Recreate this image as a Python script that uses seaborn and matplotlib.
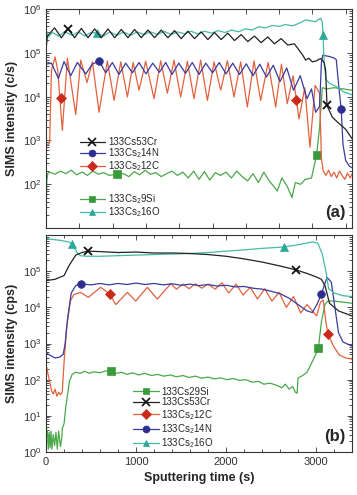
import numpy as np
import pandas as pd
import matplotlib
matplotlib.use("Agg")
import matplotlib.pyplot as plt
import seaborn as sns
from matplotlib.lines import Line2D
from matplotlib.ticker import MultipleLocator, LogLocator, NullFormatter

# ---------------- panel (a) data ----------------
a_cr_t = [0, 15, 95, 170, 244, 318, 392, 466, 540, 614, 688, 762, 836, 910, 984, 1058,
          1132, 1206, 1280, 1354, 1428, 1502, 1576, 1650, 1724, 1798, 1872, 1946, 2020,
          2094, 2168, 2242, 2316, 2390, 2464, 2538, 2612, 2686, 2760, 2811, 2850, 2885,
          2920, 2959, 3000, 3052, 3090, 3107, 3122, 3181, 3250, 3330, 3400]
a_cr_v = [1.2e5, 2.4e5, 3.7e5, 2.2e5, 3.5e5, 2.2e5, 3.6e5, 2.2e5, 3.5e5, 2.2e5, 3.5e5,
          2.2e5, 3.4e5, 2.2e5, 3.4e5, 2.2e5, 3.3e5, 2.2e5, 3.3e5, 2.2e5, 3.2e5, 2.1e5,
          3.1e5, 2.1e5, 3.0e5, 2.0e5, 2.9e5, 2.0e5, 2.8e5, 1.9e5, 2.6e5, 1.8e5, 2.4e5,
          1.7e5, 2.3e5, 1.6e5, 2.1e5, 1.5e5, 1.6e5, 1.15e5, 9e4, 6.8e4, 7.5e4, 6.2e4,
          6.5e4, 7.4e4, 6e4, 4e4, 6.3e3, 3.4e3, 2.5e3, 1.8e3, 1.1e3]

a_n_t = [0, 60, 137, 200, 274, 348, 441, 515, 589, 663, 737, 810, 885, 960, 1033, 1110,
         1185, 1260, 1330, 1400, 1475, 1550, 1625, 1700, 1775, 1850, 1925, 2000, 2075,
         2150, 2225, 2300, 2375, 2450, 2525, 2600, 2675, 2750, 2825, 2900, 2950, 2996,
         3040, 3060, 3075, 3150, 3200, 3225, 3250, 3280, 3300, 3330, 3370, 3400]
a_n_v = [5.5e4, 5.8e4, 2.6e4, 6.3e4, 3.0e4, 6.0e4, 3.3e4, 5.5e4, 6.5e4, 3.5e4, 6.0e4,
         3.2e4, 5.8e4, 3.5e4, 6.0e4, 3.3e4, 5.8e4, 3.6e4, 6.0e4, 3.2e4, 5.8e4, 3.4e4,
         6.0e4, 3.2e4, 5.8e4, 3.5e4, 6.0e4, 3.3e4, 5.8e4, 3.2e4, 5.6e4, 3.0e4, 5.5e4,
         2.8e4, 5.2e4, 2.2e4, 4.5e4, 1.4e4, 3.0e4, 9e3, 1.5e4, 4.4e3, 6e3, 6e4, 8.8e4,
         8.2e4, 7.6e4, 7e4, 2e4, 5.1e3, 800, 350, 260, 240]

a_c_t = [0, 30, 40, 60, 100, 130, 181, 237, 330, 385, 455, 515, 589, 681, 756, 830, 904,
         968, 1033, 1107, 1200, 1274, 1348, 1422, 1496, 1570, 1644, 1718, 1793, 1867,
         1941, 2015, 2089, 2163, 2237, 2311, 2385, 2468, 2552, 2616, 2681, 2745, 2811,
         2875, 2933, 2990, 3040, 3060, 3080, 3110, 3140, 3170, 3200, 3230, 3260, 3290,
         3320, 3350, 3380, 3400]
a_c_v = [820, 820, 900, 4e4, 8e4, 4e4, 1.7e3, 7.5e4, 3.9e3, 6.8e4, 2.1e4, 6.2e4, 4.4e3,
         6.5e4, 8.2e3, 6.2e4, 9.8e3, 6.0e4, 1.4e4, 6.4e4, 9e3, 6.6e4, 1.2e4, 6.8e4, 9.8e3,
         6.4e4, 9e3, 6.8e4, 8.2e3, 6.2e4, 1.4e4, 6.6e4, 9.8e3, 6.2e4, 5.8e3, 6.5e4, 8.2e3,
         6.0e4, 5.8e3, 5.5e4, 6.9e3, 3.0e4, 3.1e3, 1.6e4, 700, 1.8e4, 1.2e4, 400, 200,
         160, 210, 150, 190, 140, 200, 160, 130, 180, 140, 170]

a_si_t = [0, 8, 20, 40, 100, 160, 220, 280, 340, 400, 460, 520, 580, 640, 700, 785, 860,
          920, 980, 1040, 1100, 1160, 1220, 1280, 1340, 1400, 1460, 1520, 1580, 1640,
          1700, 1760, 1820, 1880, 1940, 2000, 2060, 2120, 2180, 2240, 2300, 2360, 2420,
          2480, 2540, 2570, 2620, 2680, 2733, 2770, 2830, 2880, 2950, 3007, 3040, 3070,
          3120, 3200, 3300, 3400]
a_si_v = [22, 120, 180, 190, 170, 200, 175, 210, 165, 190, 160, 200, 170, 185, 160, 170,
          175, 150, 195, 165, 210, 170, 185, 150, 175, 200, 160, 190, 140, 200, 130, 195,
          125, 185, 160, 190, 140, 200, 150, 120, 175, 110, 190, 120, 85, 70, 140, 90, 50,
          110, 100, 130, 140, 470, 2e3, 1.6e4, 1.5e4, 1.6e4, 1.5e4, 1.4e4]

a_o_t = [0, 25, 70, 140, 210, 290, 360, 430, 500, 570, 640, 710, 790, 860, 940, 1010,
         1090, 1160, 1240, 1310, 1390, 1460, 1540, 1610, 1690, 1760, 1840, 1910, 1990,
         2060, 2140, 2210, 2290, 2360, 2440, 2510, 2590, 2660, 2740, 2811, 2885, 2950,
         2996, 3030, 3052, 3070, 3078, 3090, 3110, 3150, 3200, 3250, 3300, 3350, 3400]
a_o_v = [3.4e5, 2.3e5, 2.9e5, 2.4e5, 3.0e5, 2.5e5, 3.0e5, 2.4e5, 2.9e5, 2.8e5, 2.4e5,
         3.0e5, 2.5e5, 3.0e5, 2.5e5, 3.0e5, 2.6e5, 3.0e5, 2.6e5, 3.1e5, 2.6e5, 3.0e5,
         2.7e5, 3.1e5, 2.7e5, 3.1e5, 2.8e5, 3.2e5, 2.9e5, 3.3e5, 3.0e5, 3.5e5, 3.3e5,
         3.9e5, 3.7e5, 4.2e5, 4.0e5, 4.4e5, 4.1e5, 4.7e5, 5.6e5, 5.3e5, 5.1e5, 5.8e5,
         6.1e5, 5e5, 2.5e5, 6e4, 2.5e4, 2e4, 1.8e4, 1.6e4, 1.3e4, 1.2e4, 1.1e4]

# ---------------- panel (b) data ----------------
b_o_t = [0, 150, 250, 293, 340, 380, 450, 600, 800, 1000, 1200, 1400, 1600, 1800, 2000,
         2200, 2400, 2644, 2800, 2959, 3020, 3070, 3110, 3140, 3200, 3300, 3400]
b_o_v = [8e5, 7.2e5, 6.5e5, 5.6e5, 3.4e5, 2.7e5, 2.6e5, 2.6e5, 2.7e5, 2.8e5, 2.9e5,
         3.0e5, 3.1e5, 3.3e5, 3.6e5, 3.9e5, 4.3e5, 4.7e5, 5.4e5, 6.5e5, 6e5, 3e5, 1e5,
         3.3e4, 2.5e4, 2.1e4, 2e4]

b_cr_t = [0, 100, 200, 260, 330, 400, 467, 600, 800, 1000, 1200, 1400, 1600, 1800, 2000,
          2200, 2400, 2600, 2774, 2900, 3000, 3060, 3100, 3150, 3250, 3400]
b_cr_v = [5.5e4, 6e4, 7.6e4, 1.5e5, 2.8e5, 3.3e5, 3.6e5, 3.5e5, 3.3e5, 3.4e5, 3.2e5,
          3.2e5, 3.1e5, 2.9e5, 2.6e5, 2.2e5, 1.8e5, 1.4e5, 1.1e5, 8.7e4, 7e4, 6e4, 4e4,
          1.3e4, 8e3, 5.8e3]

b_n_t = [0, 60, 100, 150, 190, 210, 240, 280, 330, 385, 500, 600, 700, 800, 900, 1000,
         1100, 1200, 1300, 1400, 1500, 1600, 1700, 1800, 1900, 2000, 2100, 2200, 2300,
         2400, 2500, 2600, 2700, 2800, 2900, 2959, 3010, 3059, 3122, 3170, 3210, 3250,
         3300, 3400]
b_n_v = [550, 450, 400, 420, 500, 900, 5e3, 2.5e4, 4e4, 4.5e4, 4.2e4, 4.6e4, 4.2e4,
         4.6e4, 4.3e4, 4.7e4, 4.3e4, 4.6e4, 4.2e4, 4.5e4, 4.1e4, 4.4e4, 4e4, 4.3e4,
         3.9e4, 4.1e4, 3.7e4, 3.8e4, 3.4e4, 3.2e4, 2.8e4, 2.4e4, 1.8e4, 1.2e4, 8e3,
         7.2e3, 1.2e4, 2.3e4, 6.8e4, 5e4, 1e4, 2e3, 1.1e3, 850]

b_c_t = [0, 20, 40, 60, 80, 100, 120, 140, 160, 180, 200, 230, 270, 311, 385, 470, 607,
         708, 774, 904, 996, 1126, 1237, 1385, 1450, 1520, 1590, 1660, 1730, 1800, 1880,
         1955, 2030, 2111, 2190, 2270, 2350, 2430, 2510, 2590, 2670, 2750, 2830, 2900,
         3007, 3050, 3080, 3110, 3133, 3200, 3260, 3330, 3400]
b_c_v = [270, 150, 90, 50, 40, 55, 35, 45, 38, 45, 300, 3e3, 1.5e4, 2.3e4, 2.6e4, 1.9e4,
         3.6e4, 2.35e4, 1.2e4, 2.6e4, 1.5e4, 3.6e4, 1.7e4, 4.5e4, 3.2e4, 4.4e4, 3.3e4,
         4.5e4, 3.4e4, 4.4e4, 3.2e4, 4.8e4, 2.5e4, 4.4e4, 2.2e4, 3.6e4, 1.7e4, 3.3e4,
         1.5e4, 2.6e4, 1e4, 2e4, 7e3, 1.2e4, 5.8e3, 1.4e4, 1.6e4, 4e3, 1.8e3, 800, 480,
         400, 370]

b_si_t = [0, 15, 25, 35, 45, 55, 65, 80, 95, 110, 125, 140, 160, 175, 180, 200, 220, 240,
          260, 290, 330, 380, 430, 480, 530, 600, 660, 718, 780, 840, 900, 960, 1030,
          1100, 1170, 1240, 1310, 1380, 1450, 1520, 1590, 1660, 1730, 1800, 1870, 1940,
          2010, 2080, 2150, 2220, 2290, 2360, 2420, 2490, 2560, 2620, 2660, 2700, 2740,
          2770, 2790, 2800, 2850, 2900, 2960, 3026, 3060, 3100, 3130, 3200, 3300, 3400]
b_si_v = [2, 4, 1.2, 3.5, 1.3, 3.8, 1.2, 3, 1.5, 3.5, 1.2, 3.8, 1.4, 2.5, 4.5, 6, 18, 40,
          90, 140, 160, 150, 170, 150, 165, 155, 175, 170, 150, 160, 140, 155, 135, 150,
          130, 140, 125, 135, 120, 130, 115, 125, 110, 118, 105, 112, 100, 108, 95, 100,
          85, 90, 75, 80, 70, 60, 75, 55, 65, 45, 42, 110, 130, 160, 320, 730, 4e3,
          1.2e4, 1.5e4, 1.5e4, 1.4e4, 1.3e4]

# single symbols sitting on the curves (time, intensity)
a_marks = {
    "cr": ([244, 3122], [3.4e5, 6.3e3]),
    "n": ([589, 3280], [6.5e4, 5.1e3]),
    "c": ([163, 2781], [9.4e3, 8.5e3]),
    "si": ([785, 3007], [170, 470]),
    "o": ([570, 3078], [2.8e5, 2.5e5]),
}
b_marks = {
    "o": ([293, 2644], [5.6e5, 4.7e5]),
    "cr": ([467, 2774], [3.6e5, 1.1e5]),
    "n": ([385, 3059], [4.5e4, 2.3e4]),
    "c": ([708, 3133], [2.35e4, 1.8e3]),
    "si": ([718, 3026], [170, 730]),
}

# style per species: line colour, marker colour, marker
sty = {
    "cr": ("#222222", "#111111", "x"),
    "n": ("#3b3b9e", "#2e2e8e", "o"),
    "c": ("#e2613d", "#cc2a1a", "D"),
    "si": ("#4aa84a", "#3a9a3a", "s"),
    "o": ("#44bba4", "#2aa898", "^"),
}

sns.set_theme(style="ticks")
plt.rcParams["font.family"] = ["Liberation Sans", "DejaVu Sans"]
plt.rcParams["mathtext.fontset"] = "custom"
plt.rcParams["mathtext.rm"] = "Liberation Sans"

fig = plt.figure(figsize=(3.57, 4.95), dpi=100)
ax_a = fig.add_axes([0.129, 0.539, 0.857, 0.443])
ax_b = fig.add_axes([0.129, 0.087, 0.857, 0.438])


def msize(mk):
    return 6 if mk == "x" else 5.5


def draw(ax, key, t, v, marks):
    lc, mc, mk = sty[key]
    sns.lineplot(x=t, y=v, ax=ax, color=lc, lw=0.9, estimator=None, sort=False)
    mt, mv = marks[key]
    ax.plot(mt, mv, ls="none", marker=mk, color=mc, ms=msize(mk),
            mew=1.3 if mk == "x" else 0.5)


def handle(key):
    lc, mc, mk = sty[key]
    return Line2D([], [], color=lc, lw=0.9, marker=mk, mfc=mc, mec=mc,
                  ms=msize(mk) - 0.5, mew=1.2 if mk == "x" else 0.5)


draw(ax_a, "si", a_si_t, a_si_v, a_marks)
draw(ax_a, "c", a_c_t, a_c_v, a_marks)
draw(ax_a, "n", a_n_t, a_n_v, a_marks)
draw(ax_a, "o", a_o_t, a_o_v, a_marks)
draw(ax_a, "cr", a_cr_t, a_cr_v, a_marks)

draw(ax_b, "si", b_si_t, b_si_v, b_marks)
draw(ax_b, "c", b_c_t, b_c_v, b_marks)
draw(ax_b, "n", b_n_t, b_n_v, b_marks)
draw(ax_b, "o", b_o_t, b_o_v, b_marks)
draw(ax_b, "cr", b_cr_t, b_cr_v, b_marks)

for ax in (ax_a, ax_b):
    ax.set_yscale("log")
    ax.set_xlim(0, 3400)
    ax.yaxis.set_minor_locator(LogLocator(subs=np.arange(2, 10), numticks=20))
    ax.yaxis.set_minor_formatter(NullFormatter())
    ax.tick_params(which="both", direction="in", top=True, right=True,
                   labelsize=8, colors="#333333", width=0.6)
    ax.tick_params(which="major", length=3.5)
    ax.tick_params(which="minor", length=2)
    for s in ax.spines.values():
        s.set_linewidth(0.8)
        s.set_color("#333333")

ax_a.set_ylim(10, 1e6)
ax_a.xaxis.set_major_locator(MultipleLocator(370))
ax_a.tick_params(axis="x", labelbottom=False)
ax_a.set_yticks([1e2, 1e3, 1e4, 1e5, 1e6])
ax_a.set_ylabel("SIMS intensity (c/s)", fontsize=9, fontweight="bold", labelpad=3)

ax_b.set_ylim(1, 1e6)
ax_b.set_yticks([1, 1e1, 1e2, 1e3, 1e4, 1e5])
ax_b.xaxis.set_major_locator(MultipleLocator(1000))
ax_b.xaxis.set_minor_locator(MultipleLocator(200))
ax_b.set_ylabel("SIMS intensity (cps)", fontsize=9, fontweight="bold", labelpad=3)
ax_b.set_xlabel("Sputtering time (s)", fontsize=9, fontweight="bold", labelpad=4)

lkw = dict(frameon=False, fontsize=7, handlelength=2.6, handletextpad=0.3,
           borderaxespad=0, borderpad=0)
leg1 = ax_a.legend([handle("cr"), handle("n"), handle("c")],
                   ["133Cs53Cr", "133Cs$_2$14N", "133Cs$_2$12C"],
                   loc="upper left", bbox_to_anchor=(0.11, 0.415),
                   labelspacing=-0.1, **lkw)
ax_a.add_artist(leg1)
ax_a.legend([handle("si"), handle("o")],
            ["133Cs$_2$9Si", "133Cs$_2$16O"],
            loc="upper left", bbox_to_anchor=(0.11, 0.162),
            labelspacing=-0.1, **lkw)

ax_b.legend([handle("si"), handle("cr"), handle("c"), handle("n"), handle("o")],
            ["133Cs29Si", "133Cs53Cr", "133Cs$_2$12C", "133Cs$_2$14N", "133Cs$_2$16O"],
            loc="upper left", bbox_to_anchor=(0.285, 0.30),
            labelspacing=0.05, **lkw)

ax_a.text(0.945, 0.07, "(a)", transform=ax_a.transAxes, ha="center", va="center",
          fontsize=12, fontweight="bold")
ax_b.text(0.945, 0.07, "(b)", transform=ax_b.transAxes, ha="center", va="center",
          fontsize=12, fontweight="bold")

fig.savefig("out.png", dpi=100)
